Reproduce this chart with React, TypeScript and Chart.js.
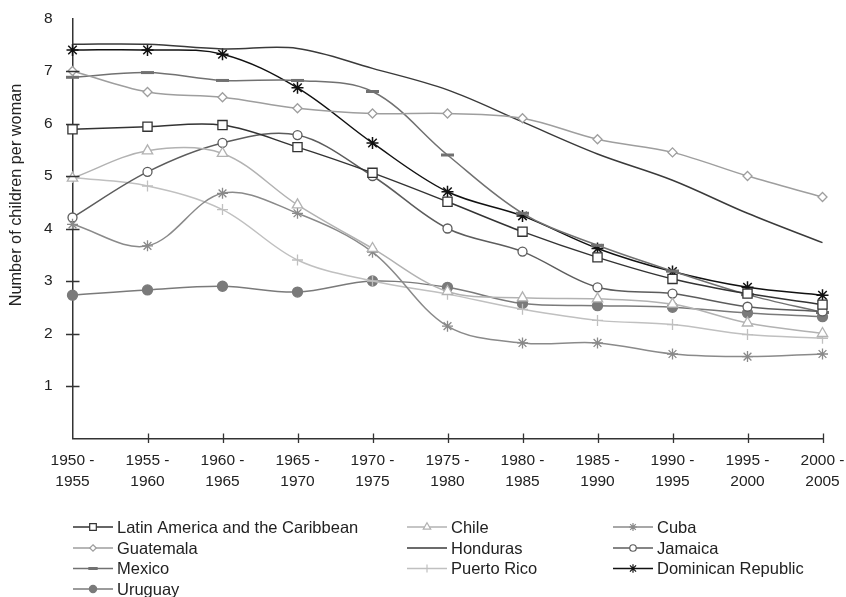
import React, { useEffect, useRef } from 'react';
import { Chart, registerables } from 'chart.js';

Chart.register(...registerables);

const periods: string[][] = [
  ['1950 -', '1955'], ['1955 -', '1960'], ['1960 -', '1965'], ['1965 -', '1970'],
  ['1970 -', '1975'], ['1975 -', '1980'], ['1980 -', '1985'], ['1985 -', '1990'],
  ['1990 -', '1995'], ['1995 -', '2000'], ['2000 -', '2005'],
];

const latinAmerica = [5.89, 5.94, 5.97, 5.55, 5.06, 4.51, 3.94, 3.45, 3.04, 2.76, 2.55];
const chile = [4.96, 5.48, 5.43, 4.45, 3.62, 2.8, 2.68, 2.66, 2.56, 2.2, 2.0];
const cuba = [4.08, 3.67, 4.67, 4.29, 3.55, 2.14, 1.82, 1.82, 1.61, 1.56, 1.61];
const guatemala = [7.0, 6.6, 6.5, 6.29, 6.19, 6.19, 6.1, 5.7, 5.45, 5.0, 4.6];
const honduras = [7.51, 7.51, 7.42, 7.43, 7.05, 6.64, 6.03, 5.42, 4.92, 4.29, 3.73];
const jamaica = [4.21, 5.08, 5.63, 5.78, 5.0, 4.0, 3.56, 2.88, 2.76, 2.51, 2.42];
const mexico = [6.88, 6.97, 6.82, 6.82, 6.61, 5.4, 4.29, 3.68, 3.19, 2.74, 2.4];
const puertoRico = [4.97, 4.81, 4.36, 3.4, 3.0, 2.75, 2.46, 2.25, 2.17, 1.98, 1.91];
const dominicanRepublic = [7.4, 7.4, 7.32, 6.68, 5.63, 4.7, 4.24, 3.62, 3.18, 2.88, 2.73];
const uruguay = [2.73, 2.83, 2.9, 2.79, 3.0, 2.88, 2.57, 2.53, 2.5, 2.39, 2.32];

const yTicks = [1, 2, 3, 4, 5, 6, 7, 8];

type SeriesStyle = {
  label: string;
  data: number[];
  color: string;
  style: string | false;
  radius: number;
  fill: string;
  width: number;
};

const series: SeriesStyle[] = [
  { label: 'Latin America and the Caribbean', data: latinAmerica, color: '#333333', style: 'rect', radius: 6.5, fill: '#ffffff', width: 1.3 },
  { label: 'Chile', data: chile, color: '#b2b2b2', style: 'triangle', radius: 6, fill: '#ffffff', width: 1.3 },
  { label: 'Cuba', data: cuba, color: '#8a8a8a', style: 'star', radius: 5.5, fill: '#ffffff', width: 1.3 },
  { label: 'Guatemala', data: guatemala, color: '#9e9e9e', style: 'rectRot', radius: 4.5, fill: '#ffffff', width: 1.3 },
  { label: 'Honduras', data: honduras, color: '#3a3a3a', style: false, radius: 0, fill: '#3a3a3a', width: 1.3 },
  { label: 'Jamaica', data: jamaica, color: '#5c5c5c', style: 'circle', radius: 4.5, fill: '#ffffff', width: 1.3 },
  { label: 'Mexico', data: mexico, color: '#717171', style: 'line', radius: 6.5, fill: '#717171', width: 3 },
  { label: 'Puerto Rico', data: puertoRico, color: '#c0c0c0', style: 'cross', radius: 5.5, fill: '#ffffff', width: 1.3 },
  { label: 'Dominican Republic', data: dominicanRepublic, color: '#111111', style: 'star', radius: 6, fill: '#ffffff', width: 1.5 },
  { label: 'Uruguay', data: uruguay, color: '#7a7a7a', style: 'circle', radius: 5, fill: '#7a7a7a', width: 1.3 },
];

const FONT = "'Liberation Sans', Arial, Helvetica, sans-serif";

function drawMarker(ctx: CanvasRenderingContext2D, s: SeriesStyle, x: number, y: number, r: number) {
  if (!s.style) return;
  ctx.save();
  ctx.strokeStyle = s.color;
  ctx.fillStyle = s.fill;
  ctx.lineWidth = s.style === 'line' ? 3 : 1.2;
  ctx.beginPath();
  switch (s.style) {
    case 'rect': {
      const h = r * Math.SQRT1_2;
      ctx.rect(x - h, y - h, 2 * h, 2 * h);
      ctx.fill();
      ctx.stroke();
      break;
    }
    case 'triangle': {
      for (let i = 0; i < 3; i++) {
        const a = (i * 2 * Math.PI) / 3;
        const px = x + Math.sin(a) * r;
        const py = y - Math.cos(a) * r;
        if (i === 0) ctx.moveTo(px, py);
        else ctx.lineTo(px, py);
      }
      ctx.closePath();
      ctx.fill();
      ctx.stroke();
      break;
    }
    case 'rectRot': {
      ctx.moveTo(x, y - r);
      ctx.lineTo(x + r, y);
      ctx.lineTo(x, y + r);
      ctx.lineTo(x - r, y);
      ctx.closePath();
      ctx.fill();
      ctx.stroke();
      break;
    }
    case 'circle': {
      ctx.arc(x, y, r, 0, Math.PI * 2);
      ctx.fill();
      ctx.stroke();
      break;
    }
    case 'line': {
      ctx.moveTo(x - r, y);
      ctx.lineTo(x + r, y);
      ctx.stroke();
      break;
    }
    case 'cross': {
      ctx.moveTo(x - r, y);
      ctx.lineTo(x + r, y);
      ctx.moveTo(x, y - r);
      ctx.lineTo(x, y + r);
      ctx.stroke();
      break;
    }
    case 'star': {
      ctx.moveTo(x - r, y);
      ctx.lineTo(x + r, y);
      ctx.moveTo(x, y - r);
      ctx.lineTo(x, y + r);
      const d = r * Math.SQRT1_2;
      ctx.moveTo(x - d, y - d);
      ctx.lineTo(x + d, y + d);
      ctx.moveTo(x - d, y + d);
      ctx.lineTo(x + d, y - d);
      ctx.stroke();
      break;
    }
  }
  ctx.restore();
}

const decorPlugin = {
  id: 'decor',
  afterDraw(chart: any) {
    const ctx: CanvasRenderingContext2D = chart.ctx;
    const xs = chart.scales.x;
    const ys = chart.scales.y;
    const area = chart.chartArea;
    ctx.save();
    // crossing tick marks
    ctx.strokeStyle = '#333333';
    ctx.lineWidth = 1.3;
    ctx.beginPath();
    yTicks.forEach((v) => {
      if (v >= 8) return;
      const py = Math.round(ys.getPixelForValue(v)) + 0.5;
      ctx.moveTo(area.left - 6.5, py);
      ctx.lineTo(area.left + 7, py);
    });
    periods.forEach((_, i) => {
      if (i === 0) return;
      const px = Math.round(xs.getPixelForValue(i)) + 0.5;
      ctx.moveTo(px, area.bottom - 5);
      ctx.lineTo(px, area.bottom + 4.5);
    });
    ctx.stroke();

    // y-axis title
    ctx.fillStyle = '#222222';
    ctx.font = `16.3px ${FONT}`;
    ctx.textAlign = 'center';
    ctx.textBaseline = 'middle';
    ctx.translate(17, 195);
    ctx.rotate(-Math.PI / 2);
    ctx.fillText('Number of children per woman', 0, 0);
    ctx.restore();

    // legend
    ctx.save();
    const colX = [73, 407, 613];
    const rowY = [527, 548, 568.5, 589];
    ctx.font = `16.5px ${FONT}`;
    ctx.textAlign = 'left';
    ctx.textBaseline = 'middle';
    series.forEach((s, i) => {
      const cx = colX[i % 3];
      const cy = rowY[Math.floor(i / 3)];
      ctx.strokeStyle = s.color;
      ctx.lineWidth = 1.5;
      ctx.beginPath();
      ctx.moveTo(cx, cy);
      ctx.lineTo(cx + 40, cy);
      ctx.stroke();
      drawMarker(ctx, s, cx + 20, cy, s.radius * 0.72);
      ctx.fillStyle = '#222222';
      ctx.fillText(s.label, cx + 44, cy + 1);
    });
    ctx.restore();
  },
};

export default function App() {
  const ref = useRef<HTMLCanvasElement | null>(null);

  useEffect(() => {
    document.body.style.margin = '0';
    const canvas = ref.current;
    if (!canvas) return;
    const chart = new Chart(canvas, {
      type: 'line',
      data: {
        labels: periods,
        datasets: series.map((s) => ({
          label: s.label,
          data: s.data,
          borderColor: s.color,
          backgroundColor: s.fill,
          borderWidth: 1.5,
          tension: 0.35,
          pointStyle: s.style as any,
          pointRadius: s.style ? s.radius : 0,
          pointHoverRadius: s.style ? s.radius : 0,
          pointBackgroundColor: s.fill,
          pointBorderColor: s.color,
          pointBorderWidth: s.width,
          fill: false,
          clip: false as any,
        })),
      },
      options: {
        animation: false,
        responsive: true,
        maintainAspectRatio: false,
        layout: { padding: { left: 0, right: 23.5, top: 18.5, bottom: 98.5 } },
        plugins: {
          legend: { display: false },
          tooltip: { enabled: false },
          title: { display: false },
        },
        scales: {
          x: {
            type: 'category',
            offset: false,
            grid: { display: false, drawTicks: true, tickLength: 12 },
            border: { display: true, color: '#333333', width: 1.5 },
            ticks: {
              color: '#222222',
              font: { family: FONT, size: 15.5, lineHeight: 1.33 },
              padding: 0,
              maxRotation: 0,
              autoSkip: false,
            },
            afterFit: (s: any) => {
              s.height = 60;
            },
          },
          y: {
            min: 0,
            max: 8,
            grid: { display: false, drawTicks: true, tickLength: 20 },
            border: { display: true, color: '#333333', width: 1.5 },
            ticks: {
              stepSize: 1,
              color: '#222222',
              font: { family: FONT, size: 15.5 },
              padding: 0,
              callback: (v: any) => (yTicks.includes(Number(v)) ? String(v) : ''),
            },
            afterFit: (s: any) => {
              s.width = 72.5;
            },
          },
        },
      },
      plugins: [decorPlugin],
    });
    return () => chart.destroy();
  }, []);

  return (
    <div style={{ position: 'fixed', left: 0, top: 0, width: 846, height: 597, background: '#ffffff' }}>
      <canvas ref={ref} />
    </div>
  );
}
